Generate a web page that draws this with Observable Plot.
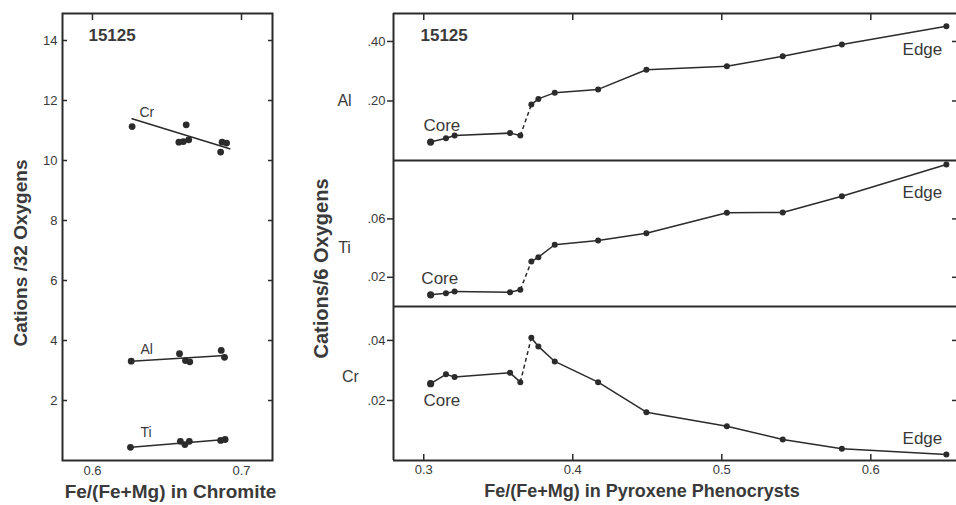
<!DOCTYPE html>
<html>
<head>
<meta charset="utf-8">
<script src="https://cdn.jsdelivr.net/npm/d3@7"></script>
<script src="https://cdn.jsdelivr.net/npm/@observablehq/plot@0.6"></script>
<style>
  body { margin: 0; background: #fff; }
  #wrap { position: relative; width: 956px; height: 505px; overflow: hidden; background: #fff; }
  #wrap svg { position: absolute; }
</style>
</head>
<body>
<div id="wrap"></div>
<script>
// ---------------- DATA ----------------
const sampleId = "15125";

// Left: chromite, cations per 32 oxygens vs Fe/(Fe+Mg)
const chromCrFe = [0.6266, 0.6629, 0.6580, 0.6610, 0.6646, 0.6870, 0.6900, 0.6860];
const chromCr   = [11.13, 11.19, 10.61, 10.63, 10.69, 10.61, 10.58, 10.28];
const chromAlFe = [0.6260, 0.6584, 0.6624, 0.6653, 0.6864, 0.6886];
const chromAl   = [3.31, 3.56, 3.33, 3.29, 3.67, 3.44];
const chromTiFe = [0.6255, 0.6590, 0.6620, 0.6650, 0.6860, 0.6890];
const chromTi   = [0.44, 0.64, 0.53, 0.64, 0.67, 0.70];
// fitted trend lines (end points)
const crFitFe = [0.6266, 0.6921], crFit = [11.39, 10.39];
const alFitFe = [0.6260, 0.6890], alFit = [3.31, 3.50];
const tiFitFe = [0.6260, 0.6890], tiFit = [0.44, 0.70];
const chromLabelText = ["Cr", "Al", "Ti"];
const chromLabelFe   = [0.6315, 0.6322, 0.6322];
const chromLabelY    = [11.6, 3.7, 0.93];
const chromYTicks = [2, 4, 6, 8, 10, 12, 14];
const chromXTicks = [0.6, 0.7];

// Right: pyroxene phenocryst zoning, cations per 6 oxygens (core -> edge)
const pyxFe = [0.3046, 0.3149, 0.3207, 0.3579, 0.3648, 0.3722, 0.3769, 0.3879, 0.4170, 0.4494, 0.5034, 0.5409, 0.5806, 0.6507];
const pyxAl = [0.062, 0.075, 0.084, 0.092, 0.084, 0.188, 0.207, 0.228, 0.239, 0.305, 0.317, 0.350, 0.390, 0.451];
const pyxTi = [0.0080, 0.0091, 0.0103, 0.0098, 0.0114, 0.0308, 0.0338, 0.0423, 0.0452, 0.0502, 0.0642, 0.0644, 0.0755, 0.0973];
const pyxCr = [0.0256, 0.0287, 0.0278, 0.0292, 0.0261, 0.0409, 0.0380, 0.0330, 0.0261, 0.0161, 0.0114, 0.0070, 0.0039, 0.0020];
const jumpAfter = 4; // segment from this analysis to the next is dashed
const pyxXTicks = [0.3, 0.4, 0.5, 0.6];
const alTicks = [0.20, 0.40];
const tiTicks = [0.02, 0.06];
const crTicks = [0.02, 0.04];
const coreAnnot = { Al: [0.2998, 0.118], Ti: [0.2984, 0.0192], Cr: [0.2998, 0.0200] };
const edgeAnnot = { Al: [0.6213, 0.373], Ti: [0.6213, 0.078], Cr: [0.6213, 0.0073] };
const elementLabelY = { Al: 0.2017, Ti: 0.0404, Cr: 0.028 };
const sampleLabelLeft = [0.5973, 14.17];
const sampleLabelRight = [0.2978, 0.42];

// ---------------- STYLE ----------------
const ink = "#2b2b2b";
const soft = "#3a3a3a";
const font = "'Liberation Sans', Arial, Helvetica, sans-serif";
const svgStyle = { background: "transparent", overflow: "visible", fontFamily: font, color: ink };
const wrap = document.getElementById("wrap");
function place(svg, left, top) { svg.style.left = left + "px"; svg.style.top = top + "px"; wrap.appendChild(svg); }
const fmt2 = d => d.toFixed(2).replace(/^0/, "");
const fmt1 = d => d.toFixed(1);

// ---------------- LEFT PANEL ----------------
const rows = (xs, ys) => xs.map((x, i) => ({ x, y: ys[i] }));
const left = Plot.plot({
  width: 290, height: 505,
  marginLeft: 62, marginRight: 18, marginTop: 13, marginBottom: 45,
  style: svgStyle,
  x: { domain: [0.5799, 0.7208] },
  y: { domain: [0, 14.9] },
  marks: [
    Plot.frame({ stroke: ink, strokeWidth: 2 }),
    Plot.axisY(chromYTicks, { anchor: "left", tickSize: 0, tickPadding: 5, fontSize: 13, fill: soft, label: null }),
    Plot.axisY(chromYTicks, { anchor: "left", tickSize: 5, dx: 5, fill: "none", stroke: ink, strokeWidth: 1.5, label: null }),
    Plot.axisY(chromYTicks, { anchor: "right", tickSize: 5, dx: -5, fill: "none", stroke: ink, strokeWidth: 1.5, label: null }),
    Plot.axisX(chromXTicks, { anchor: "bottom", tickSize: 0, tickPadding: 5, tickFormat: fmt1, fontSize: 13, fill: soft, label: null }),
    Plot.axisX(chromXTicks, { anchor: "top", tickSize: 6, dy: 6, fill: "none", stroke: ink, strokeWidth: 1.5, label: null }),
    Plot.line(rows(crFitFe, crFit), { x: "x", y: "y", stroke: ink, strokeWidth: 1.6 }),
    Plot.line(rows(alFitFe, alFit), { x: "x", y: "y", stroke: ink, strokeWidth: 1.6 }),
    Plot.line(rows(tiFitFe, tiFit), { x: "x", y: "y", stroke: ink, strokeWidth: 1.6 }),
    Plot.dot(rows(chromCrFe, chromCr), { x: "x", y: "y", r: 3.4, fill: ink, stroke: "none" }),
    Plot.dot(rows(chromAlFe, chromAl), { x: "x", y: "y", r: 3.4, fill: ink, stroke: "none" }),
    Plot.dot(rows(chromTiFe, chromTi), { x: "x", y: "y", r: 3.4, fill: ink, stroke: "none" }),
    Plot.text(chromLabelText, { x: (d, i) => chromLabelFe[i], y: (d, i) => chromLabelY[i], text: d => d, textAnchor: "start", fontSize: 14, fill: soft }),
    Plot.text([sampleId], { x: [sampleLabelLeft[0]], y: [sampleLabelLeft[1]], text: d => d, textAnchor: "start", fontSize: 17, fontWeight: "bold", fill: soft }),
    Plot.text(["Cations /32 Oxygens"], { frameAnchor: "left", textAnchor: "middle", lineAnchor: "middle", dx: -42, dy: 16, rotate: -90, fontSize: 19, fontWeight: "bold", fill: soft }),
    Plot.text(["Fe/(Fe+Mg) in Chromite"], { frameAnchor: "bottom", textAnchor: "middle", lineAnchor: "middle", dx: 3, dy: 31, fontSize: 19, fontWeight: "bold", fill: soft })
  ]
});
place(left, 0, 0);

// ---------------- RIGHT PANELS ----------------
const xDomain = [0.2797, 0.6575];
function series(vals) {
  const pts = pyxFe.map((x, i) => ({ x, y: vals[i], i }));
  const segs = pts.slice(1).map((p, k) => ({ x1: pts[k].x, y1: pts[k].y, x2: p.x, y2: p.y, dashed: k === jumpAfter }));
  return { pts, segs };
}
function panel({ key, vals, domain, ticks, height, marginTop, marginBottom, topRule, xTop, xBottom, extra = [] }) {
  const { pts, segs } = series(vals);
  return Plot.plot({
    width: 666, height, marginLeft: 103, marginRight: 0, marginTop, marginBottom,
    style: svgStyle,
    x: { domain: xDomain, axis: (xTop || xBottom) ? undefined : null },
    y: { domain },
    marks: [
      Plot.ruleX([xDomain[0]], { stroke: ink, strokeWidth: 2 }),
      Plot.ruleY([domain[0]], { stroke: ink, strokeWidth: 2 }),
      topRule ? Plot.ruleY([domain[1]], { stroke: ink, strokeWidth: 2 }) : null,
      Plot.axisY(ticks, { anchor: "left", tickSize: 6, tickPadding: 2, tickFormat: fmt2, fontSize: 13, fill: soft, stroke: ink, strokeWidth: 1.5, label: null }),
      Plot.axisY(ticks, { anchor: "right", tickSize: 5, dx: -5, fill: "none", stroke: ink, strokeWidth: 1.5, label: null }),
      xTop ? Plot.axisX(pyxXTicks, { anchor: "top", tickSize: 6, dy: 6, fill: "none", stroke: ink, strokeWidth: 1.5, label: null }) : null,
      xBottom ? Plot.axisX(pyxXTicks, { anchor: "bottom", tickSize: 6, dy: -6, fill: "none", stroke: ink, strokeWidth: 1.5, label: null }) : null,
      xBottom ? Plot.axisX(pyxXTicks, { anchor: "bottom", tickSize: 0, tickPadding: 4, tickFormat: fmt1, fontSize: 13, fill: soft, label: null }) : null,
      Plot.link(segs.filter(d => !d.dashed), { x1: "x1", y1: "y1", x2: "x2", y2: "y2", stroke: ink, strokeWidth: 1.5 }),
      Plot.link(segs.filter(d => d.dashed), { x1: "x1", y1: "y1", x2: "x2", y2: "y2", stroke: ink, strokeWidth: 1.5, strokeDasharray: "4,3" }),
      Plot.dot(pts, { x: "x", y: "y", r: d => d.i === 0 ? 3.6 : 2.5, fill: ink, stroke: "none" }),
      Plot.text(["Core"], { x: [coreAnnot[key][0]], y: [coreAnnot[key][1]], text: d => d, textAnchor: "start", fontSize: 17, fill: soft }),
      Plot.text(["Edge"], { x: [edgeAnnot[key][0]], y: [edgeAnnot[key][1]], text: d => d, textAnchor: "start", fontSize: 17, fill: soft }),
      Plot.text([key], { frameAnchor: "left", y: [elementLabelY[key]], text: d => d, dx: key === "Cr" ? -43 : -49, textAnchor: "middle", fontSize: 16, fill: soft }),
      ...extra
    ]
  });
}

const alPlot = panel({
  key: "Al", vals: pyxAl, domain: [0, 0.494], ticks: alTicks,
  height: 160, marginTop: 13, marginBottom: 0, topRule: true, xTop: true, xBottom: false,
  extra: [Plot.text([sampleId], { x: [sampleLabelRight[0]], y: [sampleLabelRight[1]], text: d => d, textAnchor: "start", fontSize: 17, fontWeight: "bold", fill: soft })]
});
place(alPlot, 290, 0);

const tiPlot = panel({
  key: "Ti", vals: pyxTi, domain: [0, 0.1], ticks: tiTicks,
  height: 146, marginTop: 0, marginBottom: 0, topRule: false, xTop: false, xBottom: false,
  extra: [Plot.text(["Cations/6 Oxygens"], { frameAnchor: "left", textAnchor: "middle", lineAnchor: "middle", dx: -72, dy: 35, rotate: -90, fontSize: 20, fontWeight: "bold", fill: soft })]
});
place(tiPlot, 290, 160);

const crPlot = panel({
  key: "Cr", vals: pyxCr, domain: [0, 0.0513], ticks: crTicks,
  height: 199, marginTop: 0, marginBottom: 45, topRule: false, xTop: false, xBottom: true,
  extra: [Plot.text(["Fe/(Fe+Mg) in Pyroxene Phenocrysts"], { frameAnchor: "bottom", textAnchor: "middle", lineAnchor: "middle", dx: -33, dy: 31, fontSize: 18, fontWeight: "bold", fill: soft })]
});
place(crPlot, 290, 306);
</script>
</body>
</html>
